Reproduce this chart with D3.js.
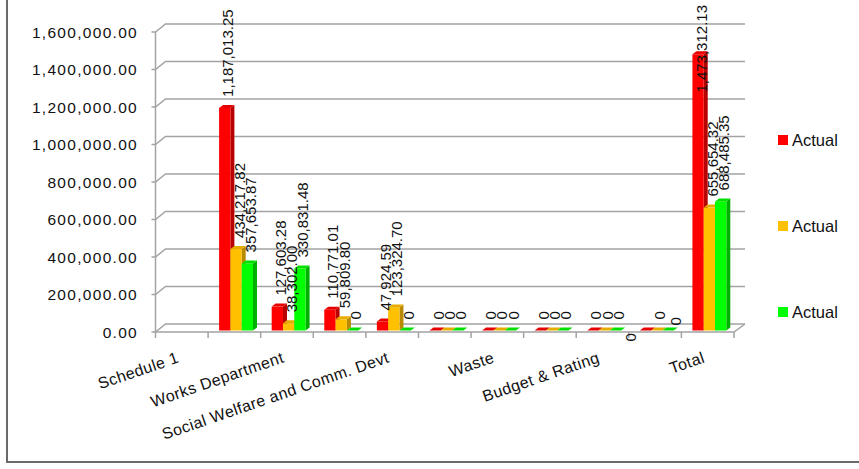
<!DOCTYPE html>
<html>
<head>
<meta charset="utf-8">
<script src="https://cdn.jsdelivr.net/npm/d3@7/dist/d3.min.js"></script>
<style>
  body { margin: 0; background: #fff; }
  svg { display: block; }
  text { font-family: "Liberation Sans", Arial, sans-serif; fill: #111; }
</style>
</head>
<body>
<svg id="chart" width="859" height="469"></svg>
<script>
// Categories (empty entries are departments whose axis label is skipped)
const categories = ["Schedule 1", "", "Works Department", "", "Social Welfare and Comm. Devt",
                    "", "Waste", "", "Budget & Rating", "", "Total"];

// Three series, all labelled "Actual" in the legend
const seriesNames = ["Actual", "Actual", "Actual"];
const actualRed    = [null, 1187013.25, 127603.28, 110771.01, 47924.59, 0, 0, 0, 0, 0, 1473312.13];
const actualOrange = [null, 434217.82, 38302.00, 59809.80, 123324.70, 0, 0, 0, 0, 0, 655654.32];
const actualGreen  = [null, 357653.87, 330831.48, 0, 0, 0, 0, 0, 0, 0, 688485.35];

const yTicks = [0, 200000, 400000, 600000, 800000, 1000000, 1200000, 1400000, 1600000];

const series = [actualRed, actualOrange, actualGreen];
const colors = [
  { front: "#ff0000", side: "#b80000", top: "#e60000" },
  { front: "#ffc000", side: "#b88a00", top: "#e6ad00" },
  { front: "#00ff00", side: "#00b000", top: "#00e000" }
];

const svg = d3.select("#chart");

// Outer chart frame
svg.append("rect")
  .attr("x", 7).attr("y", -10).attr("width", 880).attr("height", 472)
  .attr("fill", "none").attr("stroke", "#6a6a6a").attr("stroke-width", 2);

// Scales
const x = d3.scaleBand().domain(d3.range(categories.length)).range([155.5, 734]).padding(0);
const y = d3.scaleLinear().domain([0, 1600000]).range([332, 32]);

// 3D projection offsets
const wallDx = 10, wallDy = -8;   // depth of back wall
const barW = 11.3, barOff = 11, barDx = 4, barDy = -3, lift = 1.5;

const grid = svg.append("g").attr("fill", "none").attr("stroke", "#a3a3a3").attr("stroke-width", 1.5);

// Gridlines on the back wall, joined to the axis by depth lines
yTicks.forEach(t => {
  const yy = y(t);
  grid.append("path")
    .attr("d", `M151.5,${yy}H155.5L${155.5 + wallDx},${yy + wallDy}H745`);
});
// Vertical value axis
grid.append("path").attr("d", `M155.5,${y(1600000)}V${y(0)}`);
// Floor: front edge (category axis) and right depth edge
grid.append("path").attr("d", `M155.5,${y(0)}H734L745,${y(0) + wallDy}`);
// Category tick marks at slot boundaries
d3.range(categories.length + 1).forEach(i => {
  const xx = 155.5 + i * x.bandwidth();
  grid.append("path").attr("d", `M${xx},${y(0)}V${y(0) + 6}`);
});

// Value axis labels
const fmtAxis = d3.format(",.2f");
svg.append("g").selectAll("text").data(yTicks).join("text")
  .attr("x", 138).attr("y", d => y(d))
  .attr("text-anchor", "end").attr("dominant-baseline", "central")
  .attr("font-size", 15.5).attr("letter-spacing", 1.3)
  .text(d => fmtAxis(d));

// Bars
const bars = svg.append("g");
const labels = svg.append("g");
const fmtVal = v => v === 0 ? "0" : d3.format(",.2f")(v);

// Label nudges where labels were pushed aside to avoid overlaps
const labelNudge = { "9-0": [-18, 22], "9-2": [4, 6] };

categories.forEach((c, ci) => {
  series.forEach((vals, si) => {
    const v = vals[ci];
    if (v === null || v === undefined) return;
    const x0 = x(ci) + barOff + si * barW;
    const top = y(v) - lift;
    const base = y(0) - lift;
    const col = colors[si];
    const g = bars.append("g");
    // side face
    g.append("polygon")
      .attr("points", [[x0 + barW, top], [x0 + barW + barDx, top + barDy],
                       [x0 + barW + barDx, base + barDy], [x0 + barW, base]].join(" "))
      .attr("fill", col.side);
    // front face
    g.append("rect")
      .attr("x", x0).attr("y", top).attr("width", barW).attr("height", Math.max(0, base - top))
      .attr("fill", col.front);
    // top face
    g.append("polygon")
      .attr("points", [[x0, top], [x0 + barDx, top + barDy],
                       [x0 + barW + barDx, top + barDy], [x0 + barW, top]].join(" "))
      .attr("fill", col.top);

    // value label, rotated
    let cx = x0 + (barW + barDx) / 2 + 1;
    let ly = top - 11;
    const nudge = labelNudge[ci + "-" + si];
    if (nudge) { cx += nudge[0]; ly += nudge[1]; }
    const t = labels.append("text")
      .attr("font-size", 15)
      .attr("text-anchor", "start")
      .attr("dominant-baseline", "central")
      .text(fmtVal(v));
    const len = t.node().getComputedTextLength();
    if (ly - len < 5) ly = 5 + len;
    t.attr("transform", `translate(${cx},${ly}) rotate(-90)`);
  });
});

// Category labels (rotated)
svg.append("g").selectAll("text").data(categories.map((c, i) => ({ c, i })).filter(d => d.c))
  .join("text")
  .attr("text-anchor", "end")
  .attr("font-size", 16).attr("letter-spacing", 0.4)
  .attr("transform", d => `translate(${x(d.i) + x.bandwidth() / 2 - 2},${362}) rotate(-19)`)
  .text(d => d.c);

// Legend
const legendY = [140, 226, 312];
const legend = svg.append("g");
seriesNames.forEach((name, i) => {
  legend.append("rect")
    .attr("x", 778).attr("y", legendY[i] - 5).attr("width", 10).attr("height", 10)
    .attr("fill", colors[i].front);
  legend.append("text")
    .attr("x", 792).attr("y", legendY[i])
    .attr("dominant-baseline", "central")
    .attr("font-size", 16.5)
    .text(name);
});
</script>
</body>
</html>
